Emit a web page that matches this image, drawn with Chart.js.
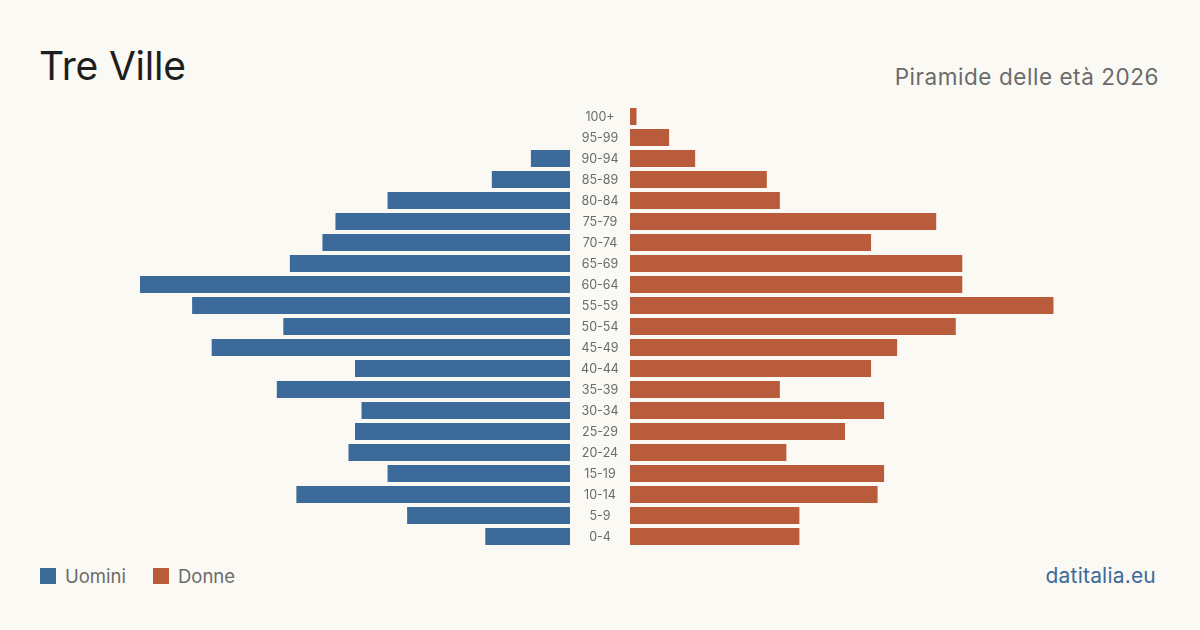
<!DOCTYPE html>
<html>
<head>
<meta charset="utf-8">
<script src="https://cdn.jsdelivr.net/npm/chart.js@4.4.1/dist/chart.umd.min.js"></script>
<style>
  html, body { margin:0; padding:0; }
  body { width:1200px; height:630px; background:#faf9f4; position:relative; overflow:hidden; font-family:Inter, "Noto Sans", sans-serif; }
  .t { position:absolute; white-space:nowrap; line-height:1; }
  #title { left:39px; top:46px; font-size:39px; letter-spacing:-0.2px; color:#1e1e1e; }
  #sub { right:41px; top:65.5px; font-size:22.5px; letter-spacing:0.55px; color:#6b6b6b; }
  .leg { position:absolute; top:568px; width:16px; height:16px; }
  .legt { top:567px; font-size:18.5px; color:#6b6b6b; }
  #brand { right:44px; top:565px; font-size:21px; letter-spacing:0.2px; color:#3c6a9a; }
  canvas { position:absolute; }
</style>
</head>
<body>
<div class="t" id="title">Tre Ville</div>
<div class="t" id="sub">Piramide delle età 2026</div>
<div class="leg" style="left:40px;background:#3c6a9a"></div>
<div class="t legt" style="left:65px">Uomini</div>
<div class="leg" style="left:153px;background:#b95c3c"></div>
<div class="t legt" style="left:178px">Donne</div>
<div class="t" id="brand">datitalia.eu</div>
<canvas id="men" width="430" height="441" style="left:140px;top:106px"></canvas>
<canvas id="women" width="490" height="441" style="left:570px;top:106px"></canvas>
<script>
const ageGroups = ["0-4","5-9","10-14","15-19","20-24","25-29","30-34","35-39","40-44","45-49","50-54","55-59","60-64","65-69","70-74","75-79","80-84","85-89","90-94","95-99","100+"];
const men   = [13,25,42,28,34,33,32,45,33,55,44,58,66,43,38,36,28,12,6,0,0];
const women = [26,26,38,39,24,33,39,23,37,41,50,65,51,51,37,47,23,21,10,6,1];

const maxVal = Math.max(...men, ...women);
const BLUE = "#3c6a9a", ORANGE = "#b95c3c";

function baseOptions(reverseX, padLeft) {
  return {
    responsive:false, animation:false, devicePixelRatio:1,
    indexAxis:'y',
    layout:{ padding:{ left:padLeft, right:0, top:0, bottom:0 } },
    plugins:{ legend:{display:false}, tooltip:{enabled:false} },
    scales:{
      x:{ display:false, min:0, max:maxVal, reverse:reverseX },
      y:{ display:false, reverse:true }
    }
  };
}

new Chart(document.getElementById('men'), {
  type:'bar',
  data:{ labels:ageGroups, datasets:[{ data:men, backgroundColor:BLUE, barPercentage:0.81, categoryPercentage:1 }] },
  options: baseOptions(true, 0)
});

const labelPlugin = {
  id:'centerLabels',
  afterDraw(chart) {
    const ctx = chart.ctx, y = chart.scales.y;
    ctx.save();
    ctx.font = '12.5px Inter, "Noto Sans", sans-serif';
    ctx.fillStyle = '#6b6b6b';
    ctx.textAlign = 'center';
    ctx.textBaseline = 'middle';
    chart.data.labels.forEach((lab, i) => {
      ctx.fillText(lab, chart.chartArea.left - 30, y.getPixelForValue(i) + 0.5);
    });
    ctx.restore();
  }
};

new Chart(document.getElementById('women'), {
  type:'bar',
  data:{ labels:ageGroups, datasets:[{ data:women, backgroundColor:ORANGE, barPercentage:0.81, categoryPercentage:1 }] },
  options: baseOptions(false, 60),
  plugins:[labelPlugin]
});
</script>
</body>
</html>
